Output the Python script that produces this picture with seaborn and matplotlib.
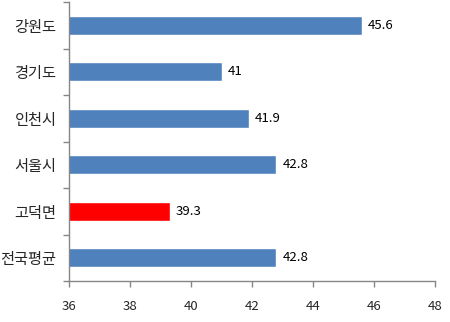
import matplotlib
matplotlib.use("Agg")
import matplotlib.pyplot as plt
import seaborn as sns
import pandas as pd
from matplotlib.ticker import FixedLocator

categories = ["강원도", "경기도", "인천시", "서울시", "고덕면", "전국평균"]
values = [45.6, 41, 41.9, 42.8, 39.3, 42.8]
value_labels = ["45.6", "41", "41.9", "42.8", "39.3", "42.8"]
bar_colors = ["#4F81BD", "#4F81BD", "#4F81BD", "#4F81BD", "#FF0000", "#4F81BD"]
x_ticks = [36, 38, 40, 42, 44, 46, 48]

sns.set_style("white")
plt.rcParams['font.family'] = ['Noto Sans CJK KR', 'DejaVu Sans']

df = pd.DataFrame({"cat": categories, "val": values})

fig = plt.figure(figsize=(4.5, 3.22), dpi=100)
ax = fig.add_axes([69/450, 41/322, 366/450, 279/322])

sns.barplot(data=df, x="val", y="cat", hue="cat", palette=dict(zip(categories, bar_colors)),
            legend=False, width=0.4, ax=ax, saturation=1, orient="h")

ax.set_xlim(36, 48)
ax.set_ylim(5.5, -0.5)
ax.set_xticks(x_ticks)
ax.set_xticklabels([str(t) for t in x_ticks], fontsize=9.5)
ax.set_xlabel("")
ax.set_ylabel("")

ax.set_yticks(range(len(categories)))
ax.set_yticklabels(categories, fontsize=11)
ax.tick_params(axis="y", which="major", length=0, pad=9)
ax.yaxis.set_minor_locator(FixedLocator([i - 0.5 for i in range(len(categories) + 1)]))
ax.tick_params(axis="y", which="minor", length=4, width=1, color="#868686", direction="out", left=True)
ax.tick_params(axis="x", which="major", length=4, width=1, color="#868686", direction="out", bottom=True, pad=10)

for side in ["top", "right"]:
    ax.spines[side].set_visible(False)
for side in ["left", "bottom"]:
    ax.spines[side].set_color("#868686")
    ax.spines[side].set_linewidth(1)

for i, (v, lab) in enumerate(zip(values, value_labels)):
    ax.text(v + 0.2, i, lab, va="center", ha="left", fontsize=9.5, color="black")

fig.savefig("out.png", dpi=100)
